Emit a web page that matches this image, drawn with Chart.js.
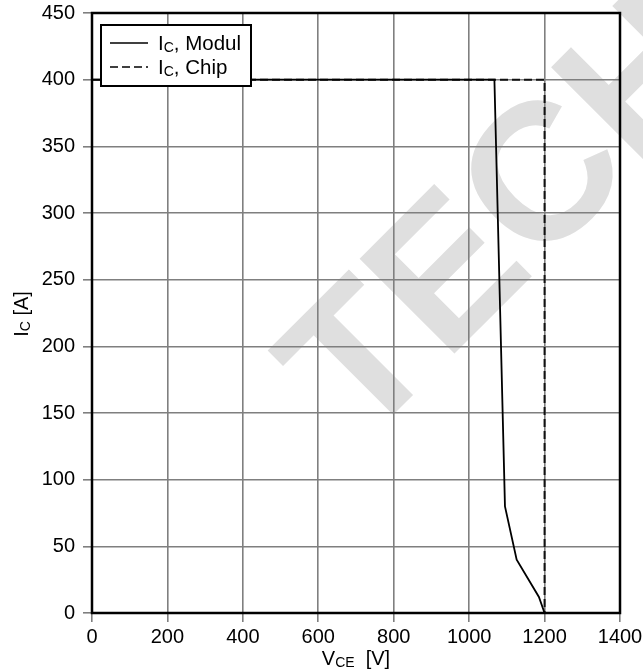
<!DOCTYPE html>
<html>
<head>
<meta charset="utf-8">
<script src="https://cdn.jsdelivr.net/npm/chart.js@4/dist/chart.umd.min.js"></script>
<style>
  html, body { margin: 0; padding: 0; background: #fff; }
  #wrap { width: 643px; height: 672px; }
</style>
</head>
<body>
<div id="wrap"><canvas id="c" width="643" height="672"></canvas></div>
<script>
// ---- data ----
const modulV = [0, 1067, 1095, 1126, 1185, 1200];
const modulI = [400, 400, 80, 40, 12, 0];
const chipV = [0, 1200, 1200];
const chipI = [400, 400, 0];
const xTicks = [0, 200, 400, 600, 800, 1000, 1200, 1400];
const yTicks = [0, 50, 100, 150, 200, 250, 300, 350, 400, 450];
const seriesNames = [["I", "C", ", Modul"], ["I", "C", ", Chip"]];
const xTitle = ["V", "CE", "  [V]"];
const yTitle = ["I", "C", " [A]"];
const watermark = "TECHNOLOGY";

const FONT = '"Liberation Sans", Arial, sans-serif';
const GRID = '#7f7f7f';

function toPts(xs, ys) { return xs.map((x, i) => ({ x: x, y: ys[i] })); }

function drawSub(ctx, parts, x, y, size, align) {
  const big = size + 'px ' + FONT;
  const small = Math.round(size * 0.68) + 'px ' + FONT;
  ctx.font = big; const w1 = ctx.measureText(parts[0]).width;
  ctx.font = small; const w2 = ctx.measureText(parts[1]).width;
  ctx.font = big; const w3 = ctx.measureText(parts[2]).width;
  let sx = x;
  if (align === 'center') sx = x - (w1 + w2 + w3) / 2;
  ctx.textBaseline = 'alphabetic';
  ctx.textAlign = 'left';
  ctx.font = big; ctx.fillText(parts[0], sx, y);
  ctx.font = small; ctx.fillText(parts[1], sx + w1, y + size * 0.12);
  ctx.font = big; ctx.fillText(parts[2], sx + w1 + w2, y);
}

const decor = {
  id: 'decor',
  beforeDraw(chart) {
    const ctx = chart.ctx;
    ctx.save();
    ctx.fillStyle = '#fff';
    ctx.fillRect(0, 0, chart.width, chart.height);
    ctx.translate(361, 447);
    ctx.rotate(-Math.PI / 4);
    ctx.font = 'bold 195px ' + FONT;
    ctx.fillStyle = '#dfdfdf';
    ctx.textBaseline = 'alphabetic';
    ctx.fillText(watermark, 0, 0);
    ctx.restore();
  },
  afterDraw(chart) {
    const ctx = chart.ctx;
    const a = chart.chartArea;
    ctx.save();
    ctx.strokeStyle = '#000';
    ctx.lineWidth = 2.5;
    ctx.strokeRect(a.left, a.top, a.right - a.left, a.bottom - a.top);
    // legend
    const lx = 101, ly = 25, lw = 150, lh = 61;
    ctx.fillStyle = '#fff';
    ctx.fillRect(lx, ly, lw, lh);
    ctx.lineWidth = 2;
    ctx.strokeRect(lx, ly, lw, lh);
    chart.data.datasets.forEach((ds, i) => {
      const y = 43 + i * 24;
      ctx.beginPath();
      ctx.setLineDash(ds.borderDash || []);
      ctx.strokeStyle = '#000';
      ctx.lineWidth = 1.5;
      ctx.moveTo(110, y); ctx.lineTo(148, y);
      ctx.stroke();
      ctx.setLineDash([]);
      ctx.fillStyle = '#000';
      drawSub(ctx, seriesNames[i], 158, y + 7, 20.5, 'left');
    });
    ctx.fillStyle = '#000';
    drawSub(ctx, xTitle, 356, 665, 20, 'center');
    ctx.translate(28, 314);
    ctx.rotate(-Math.PI / 2);
    drawSub(ctx, yTitle, 0, 0, 20, 'center');
    ctx.restore();
  }
};

new Chart(document.getElementById('c'), {
  type: 'line',
  data: {
    datasets: [
      {
        label: 'IC, Modul',
        data: toPts(modulV, modulI),
        borderColor: '#000',
        borderWidth: 1.8,
        pointRadius: 0,
        tension: 0,
        fill: false,
        order: 0
      },
      {
        label: 'IC, Chip',
        data: toPts(chipV, chipI),
        borderColor: '#111',
        borderWidth: 2,
        borderDash: [8, 4],
        pointRadius: 0,
        tension: 0,
        fill: false,
        order: 1
      }
    ]
  },
  options: {
    responsive: false,
    animation: false,
    layout: { padding: { top: 13, right: 23, left: 0, bottom: 0 } },
    plugins: { legend: { display: false }, title: { display: false }, tooltip: { enabled: false } },
    scales: {
      x: {
        type: 'linear',
        min: xTicks[0], max: xTicks[xTicks.length - 1],
        afterBuildTicks(s) { s.ticks = xTicks.map(v => ({ value: v })); },
        afterFit(s) { s.height = 59; s.paddingLeft = 0; s.paddingRight = 0; },
        border: { display: false },
        grid: { color: GRID, lineWidth: 1.6, tickLength: 9, tickColor: GRID, tickWidth: 1.6 },
        ticks: { color: '#000', font: { family: FONT, size: 20 }, padding: 3, maxRotation: 0,
                 callback: v => String(v) }
      },
      y: {
        type: 'linear',
        min: yTicks[0], max: yTicks[yTicks.length - 1],
        afterBuildTicks(s) { s.ticks = yTicks.map(v => ({ value: v })); },
        afterFit(s) { s.width = 92; s.paddingTop = 0; s.paddingBottom = 0; },
        border: { display: false },
        grid: { color: GRID, lineWidth: 1.6, tickLength: 9, tickColor: GRID, tickWidth: 1.6 },
        ticks: { color: '#000', font: { family: FONT, size: 20 }, padding: 8,
                 callback: v => String(v) }
      }
    }
  },
  plugins: [decor]
});
</script>
</body>
</html>
